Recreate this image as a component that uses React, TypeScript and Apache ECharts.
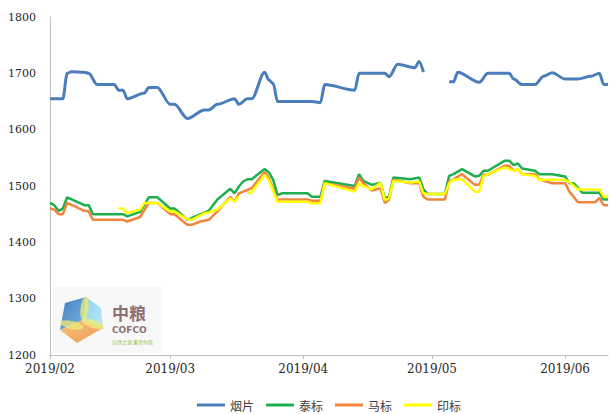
import React, { useEffect, useRef } from 'react';
import * as echarts from 'echarts';

const seriesNames = ['烟片', '泰标', '马标', '印标'];
const tickDates = ['2019-02-01', '2019-03-01', '2019-04-01', '2019-05-01', '2019-06-01'];
const tickLabels = ['2019/02', '2019/03', '2019/04', '2019/05', '2019/06'];
const axisStart = '2019-02-01';
const axisEnd = '2019-06-11';
const yTicks = [1200, 1300, 1400, 1500, 1600, 1700, 1800];

const yanpianDates = ['2019-02-01','2019-02-04','2019-02-05','2019-02-06','2019-02-09','2019-02-10','2019-02-12','2019-02-16','2019-02-17','2019-02-18','2019-02-19','2019-02-23','2019-02-24','2019-02-26','2019-03-01','2019-03-02','2019-03-05','2019-03-09','2019-03-10','2019-03-12','2019-03-16','2019-03-17','2019-03-19','2019-03-20','2019-03-23','2019-03-24','2019-03-25','2019-03-26','2019-04-03','2019-04-05','2019-04-06','2019-04-13','2019-04-14','2019-04-20','2019-04-21','2019-04-23','2019-04-27','2019-04-28','2019-04-29','2019-05-01','2019-05-05','2019-05-06','2019-05-07','2019-05-12','2019-05-14','2019-05-19','2019-05-20','2019-05-22','2019-05-25','2019-05-27','2019-05-29','2019-06-01','2019-06-04','2019-06-07','2019-06-09','2019-06-10','2019-06-11'];
const yanpianValues = [1655,1655,1700,1703,1702,1700,1680,1680,1670,1670,1655,1665,1675,1675,1645,1645,1620,1635,1635,1645,1655,1645,1655,1655,1702,1688,1682,1650,1650,1648,1680,1670,1700,1700,1694,1716,1710,1721,1702,null,1685,1685,1702,1684,1700,1700,1690,1680,1680,1695,1701,1690,1690,1695,1700,1680,1680];

const taiDates = ['2019-02-01','2019-02-02','2019-02-03','2019-02-04','2019-02-05','2019-02-09','2019-02-10','2019-02-11','2019-02-18','2019-02-19','2019-02-22','2019-02-24','2019-02-26','2019-03-01','2019-03-02','2019-03-05','2019-03-09','2019-03-10','2019-03-12','2019-03-15','2019-03-16','2019-03-17','2019-03-18','2019-03-19','2019-03-20','2019-03-23','2019-03-24','2019-03-25','2019-03-26','2019-03-27','2019-04-02','2019-04-03','2019-04-05','2019-04-06','2019-04-13','2019-04-14','2019-04-15','2019-04-17','2019-04-19','2019-04-20','2019-04-21','2019-04-22','2019-04-26','2019-04-28','2019-04-29','2019-04-30','2019-05-04','2019-05-05','2019-05-06','2019-05-08','2019-05-11','2019-05-12','2019-05-13','2019-05-14','2019-05-18','2019-05-19','2019-05-20','2019-05-21','2019-05-22','2019-05-25','2019-05-26','2019-05-29','2019-06-01','2019-06-02','2019-06-03','2019-06-05','2019-06-09','2019-06-10','2019-06-11'];
const taiValues = [1470,1466,1456,1460,1480,1466,1466,1450,1450,1446,1454,1480,1480,1460,1460,1440,1453,1456,1476,1495,1487,1499,1508,1512,1512,1530,1524,1511,1484,1487,1487,1481,1481,1509,1500,1521,1509,1502,1506,1478,1481,1515,1512,1515,1494,1486,1486,1518,1521,1530,1517,1518,1527,1527,1545,1545,1537,1540,1531,1527,1521,1521,1517,1505,1505,1488,1488,1476,1476];

const maDates = ['2019-02-01','2019-02-02','2019-02-03','2019-02-04','2019-02-05','2019-02-09','2019-02-10','2019-02-11','2019-02-18','2019-02-19','2019-02-22','2019-02-24','2019-02-26','2019-03-01','2019-03-02','2019-03-05','2019-03-06','2019-03-08','2019-03-10','2019-03-12','2019-03-15','2019-03-16','2019-03-17','2019-03-18','2019-03-20','2019-03-23','2019-03-24','2019-03-26','2019-03-27','2019-04-02','2019-04-03','2019-04-05','2019-04-06','2019-04-13','2019-04-14','2019-04-15','2019-04-17','2019-04-19','2019-04-20','2019-04-21','2019-04-22','2019-04-26','2019-04-28','2019-04-29','2019-04-30','2019-05-04','2019-05-05','2019-05-06','2019-05-08','2019-05-11','2019-05-12','2019-05-13','2019-05-14','2019-05-18','2019-05-19','2019-05-20','2019-05-21','2019-05-22','2019-05-25','2019-05-26','2019-05-29','2019-06-01','2019-06-02','2019-06-04','2019-06-08','2019-06-09','2019-06-10','2019-06-11'];
const maValues = [1460,1458,1450,1450,1470,1456,1455,1440,1440,1437,1445,1470,1470,1450,1450,1431,1431,1437,1440,1455,1481,1472,1487,1490,1496,1525,1514,1475,1476,1476,1474,1474,1505,1495,1515,1505,1492,1496,1470,1476,1511,1505,1505,1481,1476,1476,1508,1512,1521,1502,1502,1520,1520,1536,1536,1527,1530,1521,1521,1512,1505,1505,1490,1471,1471,1479,1466,1466];

const yinDates = ['2019-02-17','2019-02-18','2019-02-19','2019-02-22','2019-02-23','2019-02-26','2019-03-01','2019-03-02','2019-03-05','2019-03-06','2019-03-09','2019-03-10','2019-03-12','2019-03-15','2019-03-16','2019-03-17','2019-03-18','2019-03-19','2019-03-20','2019-03-23','2019-03-24','2019-03-26','2019-03-27','2019-04-02','2019-04-03','2019-04-05','2019-04-06','2019-04-13','2019-04-14','2019-04-15','2019-04-17','2019-04-19','2019-04-20','2019-04-21','2019-04-22','2019-04-26','2019-04-28','2019-04-29','2019-04-30','2019-05-04','2019-05-05','2019-05-06','2019-05-08','2019-05-11','2019-05-12','2019-05-13','2019-05-14','2019-05-18','2019-05-19','2019-05-20','2019-05-21','2019-05-22','2019-05-25','2019-05-26','2019-06-01','2019-06-02','2019-06-04','2019-06-09','2019-06-10','2019-06-11'];
const yinValues = [1460,1460,1452,1458,1470,1470,1455,1455,1441,1440,1452,1453,1458,1478,1472,1482,null,1487,1489,1520,1510,1472,1472,1472,1469,1470,1505,1490,1505,1500,1494,1506,1475,1478,1509,1506,1508,1487,1486,1486,1505,1511,1512,1490,1490,1517,1521,1533,1530,1527,1530,1521,1518,1511,1511,1507,1494,1494,1481,1481];

const colors = ['#4A7EBB', '#1DAF4E', '#F2843E', '#FFFF00'];

const dayOf = (s: string) => {
  const [y, m, d] = s.split('-').map(Number);
  const [y0, m0, d0] = axisStart.split('-').map(Number);
  return (Date.UTC(y, m - 1, d) - Date.UTC(y0, m0 - 1, d0)) / 86400000;
};
const pairs = (dates: string[], values: (number | null)[]) =>
  dates.map((d, i) => [dayOf(d), values[i]]);

export default function App() {
  const ref = useRef<HTMLDivElement>(null);
  useEffect(() => {
    if (!ref.current) return;
    const chart = echarts.init(ref.current, undefined, { renderer: 'svg' });
    const tickDays = tickDates.map(dayOf);
    const serif = 'DejaVu Serif';
    const cjk = 'Noto Sans CJK SC';
    const O = [83, 320];
    const A = [65, 303], B = [86, 297], C = [101, 308], D = [103, 328], E = [77, 343], F = [60, 330];
    const leaf = (p: number[], rot: number) => ({
      type: 'ellipse',
      x: (O[0] + p[0]) / 2, y: (O[1] + p[1]) / 2, rotation: rot,
      shape: { cx: 0, cy: 0, rx: 4, ry: 12 },
      style: { fill: 'rgba(236,236,120,0.75)' },
    });
    chart.setOption({
      animation: false,
      textStyle: { fontFamily: serif },
      grid: { left: 50, right: 1, top: 17, bottom: 59, containLabel: false, outerBoundsMode: 'none' },
      legend: {
        top: 394, left: 192, icon: 'rect', itemWidth: 28, itemHeight: 3, itemGap: 12,
        data: seriesNames,
        textStyle: { fontSize: 12, color: '#404040', fontFamily: cjk },
      },
      xAxis: {
        type: 'value', min: 0, max: dayOf(axisEnd),
        axisLine: { show: true, lineStyle: { color: '#BFBFBF', width: 1 } },
        axisTick: { show: true, customValues: tickDays, length: 4, lineStyle: { color: '#BFBFBF' } },
        axisLabel: {
          customValues: tickDays, fontSize: 12, color: '#262626', fontFamily: serif, margin: 8,
          formatter: (v: number) => { const i = tickDays.indexOf(v); return i >= 0 ? tickLabels[i] : ''; },
        },
        splitLine: { show: false },
      },
      yAxis: {
        type: 'value', min: yTicks[0], max: yTicks[yTicks.length - 1], interval: 100,
        axisLine: { show: true, lineStyle: { color: '#BFBFBF', width: 1 } },
        axisTick: { show: false },
        axisLabel: { fontSize: 11, color: '#262626', fontFamily: serif, margin: 14, formatter: (v: number) => String(v) },
        splitLine: { show: false },
      },
      graphic: [
        { type: 'rect', shape: { x: 52, y: 287, width: 110, height: 66 }, style: { fill: '#F8F8F8' }, z: 1 },
        {
          type: 'polygon', shape: { points: [F, A, B, O] }, z: 2,
          style: { fill: new echarts.graphic.LinearGradient(0, 0, 1, 1, [{ offset: 0, color: '#3F7DC0' }, { offset: 1, color: '#7FB6E0' }]) },
        },
        {
          type: 'polygon', shape: { points: [B, C, D, O] }, z: 2,
          style: { fill: new echarts.graphic.LinearGradient(0, 0, 1, 1, [{ offset: 0, color: '#8DD3EE' }, { offset: 1, color: '#B9E6F5' }]) },
        },
        {
          type: 'polygon', shape: { points: [D, E, F, O] }, z: 2,
          style: { fill: new echarts.graphic.LinearGradient(0, 0, 1, 1, [{ offset: 0, color: '#F6C57A' }, { offset: 1, color: '#F29A5A' }]) },
        },
        { ...leaf(B, -0.12), z: 3 },
        { ...leaf(D, -1.9), z: 3 },
        { ...leaf(F, 1.35), z: 3 },
        { type: 'text', x: 112, y: 304, z: 3, style: { text: '中粮', fontSize: 17, fontWeight: 'bold', fill: '#8E7074', fontFamily: cjk } },
        { type: 'text', x: 112, y: 325, z: 3, style: { text: 'COFCO', fontSize: 9, fontWeight: 'bold', fill: '#8E7074', fontFamily: 'DejaVu Sans' } },
        { type: 'text', x: 112, y: 339, z: 3, style: { text: '自然之源 重塑你我', fontSize: 5, fill: '#9CC65B', fontFamily: cjk } },
      ],
      series: [
        { name: seriesNames[0], type: 'line', data: pairs(yanpianDates, yanpianValues), color: colors[0], showSymbol: false, symbol: 'none', smooth: 0.3, smoothMonotone: 'x', lineStyle: { width: 3, color: colors[0] }, connectNulls: false },
        { name: seriesNames[1], type: 'line', data: pairs(taiDates, taiValues), color: colors[1], showSymbol: false, symbol: 'none', lineStyle: { width: 2.5, color: colors[1] }, connectNulls: false },
        { name: seriesNames[2], type: 'line', data: pairs(maDates, maValues), color: colors[2], showSymbol: false, symbol: 'none', lineStyle: { width: 2.5, color: colors[2] }, connectNulls: false },
        { name: seriesNames[3], type: 'line', data: pairs(yinDates, yinValues), color: colors[3], showSymbol: false, symbol: 'none', lineStyle: { width: 2.5, color: colors[3] }, connectNulls: false },
      ],
    });
    return () => chart.dispose();
  }, []);
  return <div ref={ref} style={{ position: 'fixed', left: 0, top: 0, width: 609, height: 414, background: '#fff' }} />;
}
